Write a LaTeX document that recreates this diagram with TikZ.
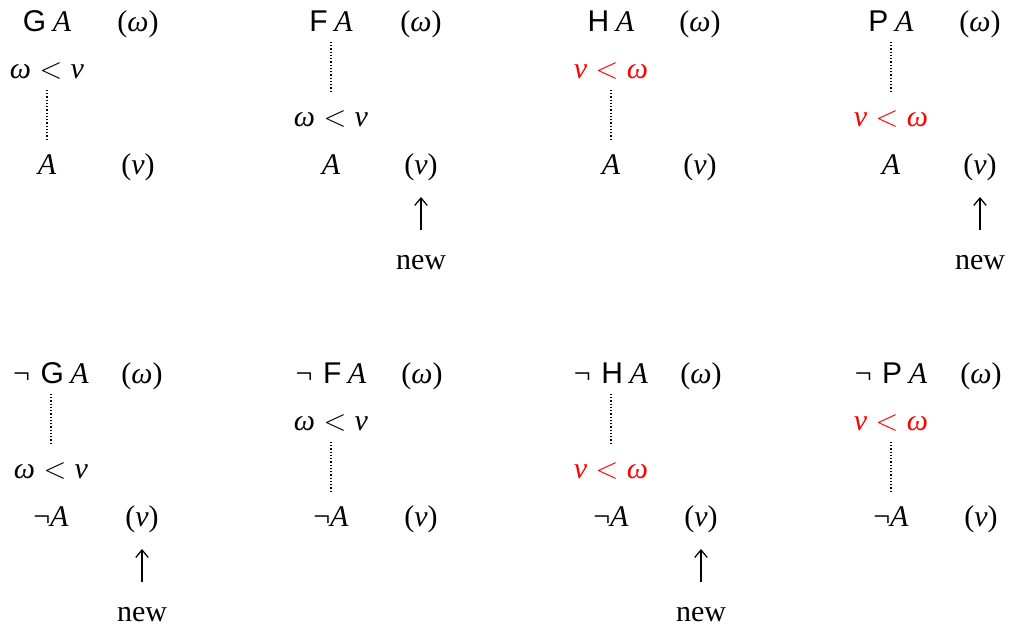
\documentclass[tikz,border=0pt]{standalone}
\usepackage{fontspec}
\setmainfont{Liberation Serif}
\setsansfont{Liberation Sans}
\usetikzlibrary{arrows.meta}
\newcommand\myA{\textit{A}}
\newcommand\myom{\textit{ω}}
\newcommand\mynu{\textit{ν}}
\newcommand\myltrel[2]{#1$\;<\;$#2}
\newcommand\myop[1]{\textsf{#1}\hspace{0.22em}\myA}
\newcommand\mynot{¬\hspace{0.35em}}
\begin{document}
\begin{tikzpicture}[x=0.4pt,y=-0.4pt,
  every node/.style={inner sep=0pt, anchor=base, font=\fontsize{12}{14}\selectfont},
  hot/.style={text=red},
  dotline/.style={line width=0.5pt, dash pattern=on 0.5pt off 0.8pt},
  newarrow/.style={-{Straight Barb[length=3pt,width=5pt]}, line width=0.5pt}]
\useasboundingbox (0,0) rectangle (1009,625);
% ---------- top row ----------
% G
\node (gA) at (47,32) {\myop{G}};
\node (gw) at (138,32) {(\myom)};
\node (gc) at (47,79) {\myltrel{\myom}{\mynu}};
\node (gB) at (47,175) {\myA};
\node (gv) at (138,175) {(\mynu)};
\draw[dotline] ([yshift=-4.4pt]gc.base) -- ([yshift=14pt]gB.base);
% F
\node (fA) at (331,32) {\myop{F}};
\node (fw) at (421,32) {(\myom)};
\node (fc) at (331,127) {\myltrel{\myom}{\mynu}};
\node (fB) at (331,175) {\myA};
\node (fv) at (421,175) {(\mynu)};
\node (fn) at (421,270) {new};
\draw[dotline] ([yshift=-4pt]fA.base) -- ([yshift=13.6pt]fc.base);
\draw[newarrow] ([yshift=16pt]fn.base) -- ([yshift=-8.8pt]fv.base);
% H
\node (hA) at (611,32) {\myop{H}};
\node (hw) at (700,32) {(\myom)};
\node[hot] (hc) at (611,79) {\myltrel{\mynu}{\myom}};
\node (hB) at (611,175) {\myA};
\node (hv) at (700,175) {(\mynu)};
\draw[dotline] ([yshift=-4.4pt]hc.base) -- ([yshift=14pt]hB.base);
% P
\node (pA) at (891,32) {\myop{P}};
\node (pw) at (980,32) {(\myom)};
\node[hot] (pc) at (891,127) {\myltrel{\mynu}{\myom}};
\node (pB) at (891,175) {\myA};
\node (pv) at (980,175) {(\mynu)};
\node (pn) at (980,270) {new};
\draw[dotline] ([yshift=-4pt]pA.base) -- ([yshift=13.6pt]pc.base);
\draw[newarrow] ([yshift=16pt]pn.base) -- ([yshift=-8.8pt]pv.base);
% ---------- bottom row ----------
% not G
\node (ngA) at (51,384) {\mynot\myop{G}};
\node (ngw) at (142,384) {(\myom)};
\node (ngc) at (51,479) {\myltrel{\myom}{\mynu}};
\node (ngB) at (51,527) {¬\myA};
\node (ngv) at (142,527) {(\mynu)};
\node (ngn) at (142,622) {new};
\draw[dotline] ([yshift=-4pt]ngA.base) -- ([yshift=13.6pt]ngc.base);
\draw[newarrow] ([yshift=16pt]ngn.base) -- ([yshift=-8.8pt]ngv.base);
% not F
\node (nfA) at (331,384) {\mynot\myop{F}};
\node (nfw) at (422,384) {(\myom)};
\node (nfc) at (331,431) {\myltrel{\myom}{\mynu}};
\node (nfB) at (331,527) {¬\myA};
\node (nfv) at (421,527) {(\mynu)};
\draw[dotline] ([yshift=-4.4pt]nfc.base) -- ([yshift=14pt]nfB.base);
% not H
\node (nhA) at (611,384) {\mynot\myop{H}};
\node (nhw) at (701,384) {(\myom)};
\node[hot] (nhc) at (611,479) {\myltrel{\mynu}{\myom}};
\node (nhB) at (611,527) {¬\myA};
\node (nhv) at (701,527) {(\mynu)};
\node (nhn) at (701,622) {new};
\draw[dotline] ([yshift=-4pt]nhA.base) -- ([yshift=13.6pt]nhc.base);
\draw[newarrow] ([yshift=16pt]nhn.base) -- ([yshift=-8.8pt]nhv.base);
% not P
\node (npA) at (891,384) {\mynot\myop{P}};
\node (npw) at (981,384) {(\myom)};
\node[hot] (npc) at (891,431) {\myltrel{\mynu}{\myom}};
\node (npB) at (891,527) {¬\myA};
\node (npv) at (981,527) {(\mynu)};
\draw[dotline] ([yshift=-4.4pt]npc.base) -- ([yshift=14pt]npB.base);
\end{tikzpicture}
\end{document}
